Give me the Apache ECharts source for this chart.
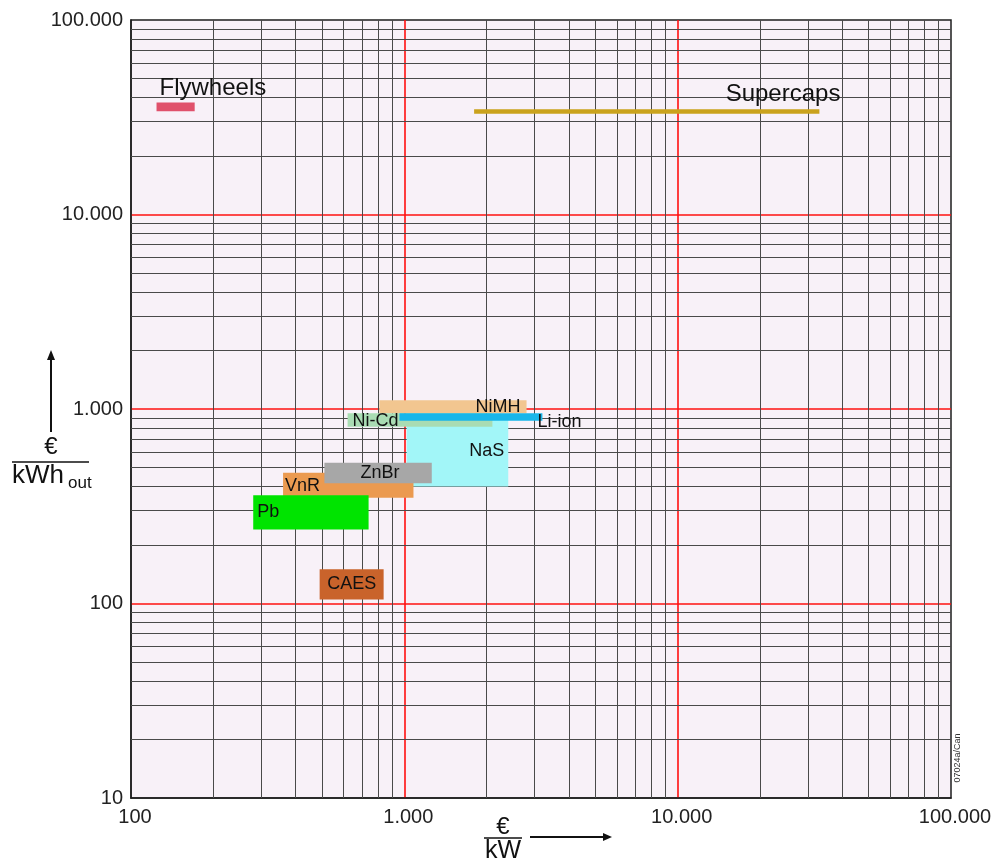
<!DOCTYPE html>
<html>
<head>
<meta charset="utf-8">
<style>
  html, body { margin: 0; padding: 0; background: #ffffff; }
  #chart { width: 997px; height: 860px; }
</style>
<script src="https://cdn.jsdelivr.net/npm/echarts@6/dist/echarts.min.js"></script>
</head>
<body>
<div id="chart"></div>
<script>
// ---- data ----
const techs          = ['NaS', 'NiMH', 'Ni-Cd', 'Li-ion', 'VnR', 'ZnBr', 'Pb', 'CAES', 'Flywheels', 'Supercaps'];
const powerCostMin   = [1020,  810,   620,    960,     360,   510,    280,  490,    124,         1800];   // €/kW
const powerCostMax   = [2400,  2800,  2100,   3200,    1080,  1260,   740,  840,    171,         33000];
const energyCostMin  = [400,   950,   810,    870,     350,   415,    240,  105,    34000,       33000];  // €/kWh_out
const energyCostMax  = [880,   1110,  950,    950,     470,   530,    360,  150,    37700,       34800];
const xTickValues    = [100, 1000, 10000, 100000];
const yTickValues    = [10, 100, 1000, 10000, 100000];

// ---- styles ----
const FONT = '"Liberation Sans", Arial, Helvetica, sans-serif';
const colors = {
  'NaS': '#a2f6f8', 'NiMH': '#f2c690', 'Ni-Cd': '#a9dcb3', 'Li-ion': '#19b6ea',
  'VnR': '#eb9a50', 'ZnBr': '#a7a7a7', 'Pb': '#00e400', 'CAES': '#c9632b',
  'Flywheels': '#e0516b', 'Supercaps': '#caa21d'
};
// label placement relative to each rectangle
const labelPlace = {
  'NaS':       { bx: 'right',  dx: -4,  by: 'top',    dy: 31, align: 'right',  size: 18 },
  'NiMH':      { bx: 'right',  dx: -6,  by: 'middle', dy: 0,  align: 'right',  size: 18 },
  'Ni-Cd':     { bx: 'left',   dx: 5,   by: 'middle', dy: 1,  align: 'left',   size: 18 },
  'Li-ion':    { bx: 'right',  dx: -5,  by: 'middle', dy: 5,  align: 'left',   size: 18 },
  'VnR':       { bx: 'left',   dx: 2,   by: 'middle', dy: 1,  align: 'left',   size: 18 },
  'ZnBr':      { bx: 'center', dx: 2,   by: 'middle', dy: 0,  align: 'center', size: 18 },
  'Pb':        { bx: 'left',   dx: 4,   by: 'middle', dy: 0,  align: 'left',   size: 18 },
  'CAES':      { bx: 'center', dx: 0,   by: 'middle', dy: 0,  align: 'center', size: 18 },
  'Flywheels': { bx: 'left',   dx: 3,   by: 'top',    dy: -14, align: 'left',  size: 24 },
  'Supercaps': { bx: 'right',  dx: 21,  by: 'top',    dy: -15, align: 'right', size: 24 }
};

const rectData = techs.map((t, i) => [powerCostMin[i], powerCostMax[i], energyCostMin[i], energyCostMax[i], t]);

function minorValues(ticks) {
  const out = [];
  for (let i = 0; i < ticks.length - 1; i++) {
    for (let k = 2; k <= 9; k++) out.push(ticks[i] * k);
  }
  return out;
}
const minorX = minorValues(xTickValues);
const minorY = minorValues(yTickValues);

function fmt(v) {
  return String(Math.round(v)).replace(/\B(?=(\d{3})+(?!\d))/g, '.');
}

function renderItem(params, api) {
  const tl = api.coord([api.value(0), api.value(3)]);
  const br = api.coord([api.value(1), api.value(2)]);
  const name = techs[params.dataIndex];
  const x = tl[0], y = tl[1], w = br[0] - tl[0], h = br[1] - tl[1];
  const p = labelPlace[name];
  let tx = p.bx === 'left' ? x : (p.bx === 'right' ? x + w : x + w / 2);
  let ty = p.by === 'top' ? y : y + h / 2;
  tx += p.dx; ty += p.dy;
  return {
    type: 'group',
    children: [
      { type: 'rect', shape: { x: x, y: y, width: w, height: h }, style: { fill: colors[name] } },
      { type: 'text', x: tx, y: ty, z2: 100,
        style: { text: name, fill: '#111111', align: p.align, verticalAlign: 'middle',
                 font: p.size + 'px ' + FONT } }
    ]
  };
}

const axisCommon = {
  type: 'log', logBase: 10,
  axisLine: { show: true, lineStyle: { color: '#1e1e1e', width: 1.5 } },
  axisTick: { show: false },
  splitLine: { show: true, showMinLine: false, showMaxLine: false, lineStyle: { color: '#ff1010', width: 1.6 } },
  minorTick: { show: false },
  minorSplitLine: { show: false }
};

const chart = echarts.init(document.getElementById('chart'), null, { renderer: 'canvas' });
chart.setOption({
  animation: false,
  backgroundColor: '#ffffff',
  grid: {
    left: 131, right: 46, top: 20, bottom: 62,
    show: true, backgroundColor: '#f8f1f8', borderColor: '#1e1e1e', borderWidth: 1.5
  },
  xAxis: Object.assign({}, axisCommon, {
    min: xTickValues[0], max: xTickValues[xTickValues.length - 1],
    axisLabel: { fontSize: 20, fontFamily: FONT, color: '#222', margin: 9, padding: [0, 0, 0, 8], formatter: fmt }
  }),
  yAxis: Object.assign({}, axisCommon, {
    min: yTickValues[0], max: yTickValues[yTickValues.length - 1],
    axisLabel: { fontSize: 20, fontFamily: FONT, color: '#222', margin: 8, formatter: fmt }
  }),
  series: [
    {
      type: 'scatter', data: [], z: 1, silent: true,
      markLine: {
        z: 1, zlevel: 0,
        silent: true, symbol: ['none', 'none'], animation: false,
        label: { show: false },
        lineStyle: { color: '#4a4a4a', width: 1, type: 'solid' },
        emphasis: { disabled: true },
        data: minorX.map(v => ({ xAxis: v })).concat(minorY.map(v => ({ yAxis: v })))
      }
    },
    {
      type: 'custom', z: 6, silent: true,
      renderItem: renderItem,
      encode: { x: [0, 1], y: [2, 3] },
      data: rectData
    }
  ],
  graphic: [
    // x-axis title: € / kW with arrow
    { type: 'text', x: 503, y: 827, style: { text: '€', font: '24px ' + FONT, fill: '#111', align: 'center', verticalAlign: 'middle' } },
    { type: 'line', shape: { x1: 484, y1: 838, x2: 522, y2: 838 }, style: { stroke: '#111', lineWidth: 1.5 } },
    { type: 'text', x: 503, y: 851, style: { text: 'kW', font: '25px ' + FONT, fill: '#111', align: 'center', verticalAlign: 'middle' } },
    { type: 'line', shape: { x1: 530, y1: 837, x2: 604, y2: 837 }, style: { stroke: '#111', lineWidth: 2 } },
    { type: 'polygon', shape: { points: [[603, 833], [612, 837], [603, 841]] }, style: { fill: '#111' } },
    // y-axis title: € / kWh_out with arrow
    { type: 'line', shape: { x1: 51, y1: 432, x2: 51, y2: 358 }, style: { stroke: '#111', lineWidth: 2 } },
    { type: 'polygon', shape: { points: [[47, 360], [51, 350], [55, 360]] }, style: { fill: '#111' } },
    { type: 'text', x: 51, y: 447, style: { text: '€', font: '24px ' + FONT, fill: '#111', align: 'center', verticalAlign: 'middle' } },
    { type: 'line', shape: { x1: 12, y1: 462, x2: 89, y2: 462 }, style: { stroke: '#111', lineWidth: 1.5 } },
    { type: 'text', x: 12, y: 476, style: { text: 'kWh', font: '26px ' + FONT, fill: '#111', align: 'left', verticalAlign: 'middle' } },
    { type: 'text', x: 68, y: 483, style: { text: 'out', font: '17px ' + FONT, fill: '#111', align: 'left', verticalAlign: 'middle' } },
    // drawing reference
    { type: 'text', x: 958, y: 758, rotation: Math.PI / 2,
      style: { text: '07024a/Can', font: '9px ' + FONT, fill: '#333', align: 'center', verticalAlign: 'middle' } }
  ]
});
</script>
</body>
</html>
